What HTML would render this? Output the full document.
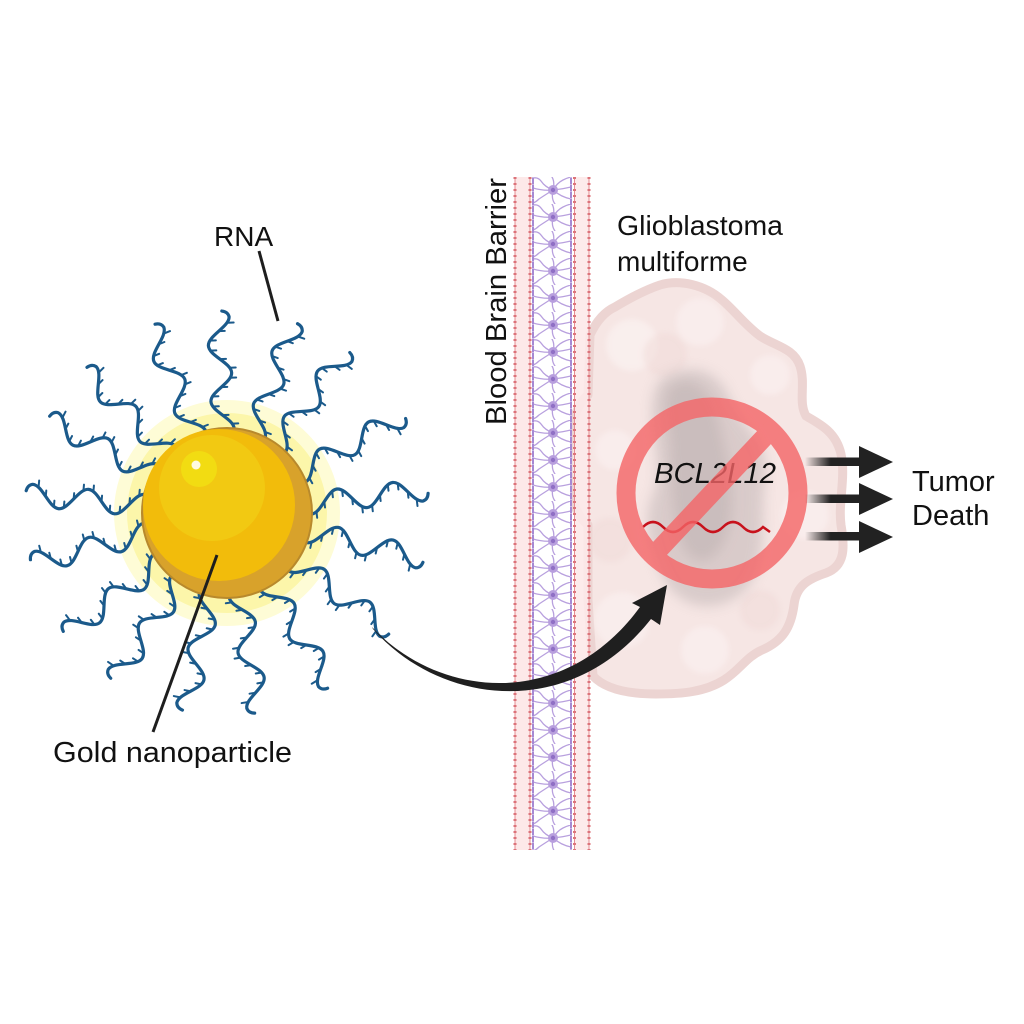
<!DOCTYPE html>
<html>
<head>
<meta charset="utf-8">
<style>
  html, body { margin: 0; padding: 0; background: #ffffff; }
  body { width: 1024px; height: 1024px; overflow: hidden; }
  svg { display: block; }
  text { font-family: "Liberation Sans", Arial, sans-serif; fill: #111111; }
</style>
</head>
<body>
<svg width="1024" height="1024" viewBox="0 0 1024 1024" xmlns="http://www.w3.org/2000/svg">
  <defs>
    <pattern id="astro" patternUnits="userSpaceOnUse" x="533" y="177" width="38" height="27">
      <g fill="none" stroke="#b8a0de" stroke-width="1.3" stroke-linecap="round">
        <path d="M20 13 Q12 10 8 4 Q5 0 0 1"/>
        <path d="M20 13 Q10 14 0 11"/>
        <path d="M20 13 Q12 18 6 22 Q3 25 0 26"/>
        <path d="M20 13 Q24 6 30 3 Q34 1 38 0"/>
        <path d="M20 13 Q30 12 38 10"/>
        <path d="M20 13 Q28 20 38 22"/>
        <path d="M20 13 Q22 5 19 0"/>
        <path d="M20 13 Q18 22 22 27"/>
      </g>
      <circle cx="20" cy="13" r="5" fill="#b89fde"/>
      <circle cx="20" cy="13" r="2.2" fill="#9070c5"/>
    </pattern>
    <linearGradient id="tailg" x1="0" y1="0" x2="1" y2="0">
      <stop offset="0" stop-color="#222" stop-opacity="0"/>
      <stop offset="0.45" stop-color="#222" stop-opacity="1"/>
      <stop offset="1" stop-color="#222" stop-opacity="1"/>
    </linearGradient>
    <filter id="blur6" x="-30%" y="-30%" width="160%" height="160%">
      <feGaussianBlur stdDeviation="6"/>
    </filter>
    <filter id="blur3" x="-30%" y="-30%" width="160%" height="160%">
      <feGaussianBlur stdDeviation="3"/>
    </filter>
    <clipPath id="tumclip">
      <path d="M 590 335 C 596 322, 604 312, 615 307 C 630 298, 645 290, 660 285 C 680 279, 705 285, 722 300 C 735 311, 745 325, 760 336 C 775 346, 794 348, 800 366 C 806 384, 798 402, 806 416 C 820 424, 836 432, 841 454 C 846 478, 838 502, 841 525 C 845 548, 845 566, 826 573 C 808 579, 796 586, 794 605 C 791 627, 783 641, 762 650 C 746 657, 740 670, 724 680 C 705 692, 682 694, 656 694 C 630 694, 606 690, 593 676 L 588 600 L 588 525 C 575 515, 567 490, 568 460 C 569 425, 578 402, 588 395 Z"/>
    </clipPath>
  </defs>

  <!-- ================= TUMOR ================= -->
  <path d="M 590 335 C 596 322, 604 312, 615 307 C 630 298, 645 290, 660 285 C 680 279, 705 285, 722 300 C 735 311, 745 325, 760 336 C 775 346, 794 348, 800 366 C 806 384, 798 402, 806 416 C 820 424, 836 432, 841 454 C 846 478, 838 502, 841 525 C 845 548, 845 566, 826 573 C 808 579, 796 586, 794 605 C 791 627, 783 641, 762 650 C 746 657, 740 670, 724 680 C 705 692, 682 694, 656 694 C 630 694, 606 690, 593 676 L 588 600 L 588 525 C 575 515, 567 490, 568 460 C 569 425, 578 402, 588 395 Z"
        fill="#f6e6e4" stroke="#ecd4d2" stroke-width="9" stroke-linejoin="round"/>
  <g clip-path="url(#tumclip)">
    <g filter="url(#blur3)">
      <circle cx="632" cy="345" r="26" fill="#fbf2f1" opacity="0.7"/>
      <circle cx="700" cy="322" r="24" fill="#fbf2f1" opacity="0.6"/>
      <circle cx="770" cy="375" r="20" fill="#fbf2f1" opacity="0.6"/>
      <circle cx="622" cy="620" r="28" fill="#fbf2f1" opacity="0.6"/>
      <circle cx="705" cy="650" r="24" fill="#fbf2f1" opacity="0.6"/>
      <circle cx="805" cy="515" r="24" fill="#fbf2f1" opacity="0.6"/>
      <circle cx="615" cy="450" r="20" fill="#fbf2f1" opacity="0.6"/>
      <circle cx="665" cy="355" r="22" fill="#efd9d7" opacity="0.5"/>
      <circle cx="610" cy="540" r="22" fill="#efd9d7" opacity="0.5"/>
      <circle cx="760" cy="610" r="20" fill="#efd9d7" opacity="0.5"/>
    </g>
    <path d="M 660 380 C 690 360, 720 370, 730 400 C 745 430, 770 440, 765 480 C 760 520, 770 560, 745 590 C 720 615, 680 610, 665 580 C 650 550, 640 520, 655 490 C 665 460, 640 410, 660 380 Z"
          fill="#c6baba" opacity="0.6" filter="url(#blur6)"/>
    <path d="M 672 385 C 695 372, 712 392, 718 420 C 728 460, 740 500, 725 540 C 710 570, 690 565, 680 540 C 670 510, 672 470, 670 440 C 668 415, 660 395, 672 385 Z"
          fill="#bbafaf" opacity="0.5" filter="url(#blur6)"/>
  </g>

  <!-- ================= BLOOD BRAIN BARRIER ================= -->
  <rect x="515" y="177" width="15" height="673" fill="#fde9e9"/>
  <rect x="574" y="177" width="15" height="673" fill="#fde9e9" opacity="0.9"/>
  <rect x="533" y="177" width="38" height="673" fill="#ffffff"/>
  <rect x="533" y="177" width="38" height="673" fill="url(#astro)"/>
  <g stroke="#e48b90" stroke-width="1">
    <line x1="515" y1="177" x2="515" y2="850"/>
    <line x1="530" y1="177" x2="530" y2="850"/>
    <line x1="574.5" y1="177" x2="574.5" y2="850"/>
    <line x1="589" y1="177" x2="589" y2="850"/>
  </g>
  <g stroke="#dc737a" stroke-width="3" stroke-dasharray="2 4">
    <line x1="515" y1="177" x2="515" y2="850"/>
    <line x1="530" y1="177" x2="530" y2="850"/>
    <line x1="574.5" y1="177" x2="574.5" y2="850"/>
    <line x1="589" y1="177" x2="589" y2="850"/>
  </g>
  <g stroke="#a689d3" stroke-width="2">
    <line x1="533" y1="177" x2="533" y2="850"/>
    <line x1="571" y1="177" x2="571" y2="850"/>
  </g>
  <g stroke="#ffffff" stroke-width="1" stroke-dasharray="1 6" opacity="0.8">
    <line x1="533" y1="177" x2="533" y2="850"/>
    <line x1="571" y1="177" x2="571" y2="850"/>
  </g>

  <text transform="translate(506 425) rotate(-90)" font-size="29" textLength="247" lengthAdjust="spacingAndGlyphs">Blood Brain Barrier</text>

  <!-- ================= INHIBITED GENE ================= -->
  <text x="654" y="483" font-size="29" font-style="italic" textLength="122" lengthAdjust="spacingAndGlyphs">BCL2L12</text>
  <path d="M643 527 Q653 517 663 527 T683 527 T703 527 T723 527 T743 527 T763 527 L770 532"
        fill="none" stroke="#c8121c" stroke-width="2.5"/>
  <g opacity="0.8">
    <circle cx="712" cy="493" r="86" fill="none" stroke="#f46466" stroke-width="19"/>
    <line x1="773" y1="428" x2="651" y2="558" stroke="#f46466" stroke-width="19"/>
  </g>

  <!-- ================= TUMOR DEATH ARROWS ================= -->
  <g>
    <rect x="805" y="457.5" width="57" height="8.5" fill="url(#tailg)"/>
    <polygon points="859,446 893,462 859,478" fill="#222"/>
    <rect x="805" y="494.5" width="57" height="8.5" fill="url(#tailg)"/>
    <polygon points="859,483 893,499 859,515" fill="#222"/>
    <rect x="805" y="532" width="57" height="8.5" fill="url(#tailg)"/>
    <polygon points="859,521 893,537 859,553" fill="#222"/>
  </g>

  <!-- ================= GOLD NANOPARTICLE ================= -->
  <circle cx="227" cy="513" r="113" fill="#fefcd6"/>
  <circle cx="227" cy="513" r="100" fill="#fcf6aa"/>

  <!-- RNA strands -->
  <g fill="none" stroke="#1b5a8b" stroke-linecap="round">
    <g transform="translate(227 513) rotate(-92.6) translate(84 0)"><path stroke-width="3.2" d="M0 11 C10 11 18 -11 28 -11 S46 11 56 11 S74 -11 84 -11 S102 11 112 11 Q117 10 118 4"/><path stroke-width="2" d="M5 9.3v6M14 0v6M23 -9.3v6M33 -9.3v6M42 0v6M51 9.3v6M61 9.3v6M70 0v6M79 -9.3v6M89 -9.3v6M98 0v6M106 9.3v6"/></g>
    <g transform="translate(227 513) rotate(-70.7) translate(84 0)"><path stroke-width="3.2" d="M0 11 C10 11 18 -11 28 -11 S46 11 56 11 S74 -11 84 -11 S102 11 112 11 Q117 10 118 4"/><path stroke-width="2" d="M5 9.3v6M14 0v6M23 -9.3v6M33 -9.3v6M42 0v6M51 9.3v6M61 9.3v6M70 0v6M79 -9.3v6M89 -9.3v6M98 0v6M106 9.3v6"/></g>
    <g transform="translate(227 513) rotate(-53.7) translate(84 0)"><path stroke-width="3.2" d="M0 11 C10 11 18 -11 28 -11 S46 11 56 11 S74 -11 84 -11 S102 11 112 11 Q117 10 118 4"/><path stroke-width="2" d="M5 9.3v6M14 0v6M23 -9.3v6M33 -9.3v6M42 0v6M51 9.3v6M61 9.3v6M70 0v6M79 -9.3v6M89 -9.3v6M98 0v6M106 9.3v6"/></g>
    <g transform="translate(227 513) rotate(-29) translate(84 0)"><path stroke-width="3.2" d="M0 11 C10 11 18 -11 28 -11 S46 11 56 11 S74 -11 84 -11 S102 11 112 11 Q117 10 118 4"/><path stroke-width="2" d="M5 9.3v6M14 0v6M23 -9.3v6M33 -9.3v6M42 0v6M51 9.3v6M61 9.3v6M70 0v6M79 -9.3v6M89 -9.3v6M98 0v6M106 9.3v6"/></g>
    <g transform="translate(227 513) rotate(-6.7) translate(84 0)"><path stroke-width="3.2" d="M0 11 C10 11 18 -11 28 -11 S46 11 56 11 S74 -11 84 -11 S102 11 112 11 Q117 10 118 4"/><path stroke-width="2" d="M5 9.3v6M14 0v6M23 -9.3v6M33 -9.3v6M42 0v6M51 9.3v6M61 9.3v6M70 0v6M79 -9.3v6M89 -9.3v6M98 0v6M106 9.3v6"/></g>
    <g transform="translate(227 513) rotate(13) translate(84 0)"><path stroke-width="3.2" d="M0 11 C10 11 18 -11 28 -11 S46 11 56 11 S74 -11 84 -11 S102 11 112 11 Q117 10 118 4"/><path stroke-width="2" d="M5 9.3v6M14 0v6M23 -9.3v6M33 -9.3v6M42 0v6M51 9.3v6M61 9.3v6M70 0v6M79 -9.3v6M89 -9.3v6M98 0v6M106 9.3v6"/></g>
    <g transform="translate(227 513) rotate(35.7) translate(84 0)"><path stroke-width="3.2" d="M0 11 C10 11 18 -11 28 -11 S46 11 56 11 S74 -11 84 -11 S102 11 112 11 Q117 10 118 4"/><path stroke-width="2" d="M5 9.3v6M14 0v6M23 -9.3v6M33 -9.3v6M42 0v6M51 9.3v6M61 9.3v6M70 0v6M79 -9.3v6M89 -9.3v6M98 0v6M106 9.3v6"/></g>
    <g transform="translate(227 513) rotate(59) translate(84 0)"><path stroke-width="3.2" d="M0 11 C10 11 18 -11 28 -11 S46 11 56 11 S74 -11 84 -11 S102 11 112 11 Q117 10 118 4"/><path stroke-width="2" d="M5 9.3v6M14 0v6M23 -9.3v6M33 -9.3v6M42 0v6M51 9.3v6M61 9.3v6M70 0v6M79 -9.3v6M89 -9.3v6M98 0v6M106 9.3v6"/></g>
    <g transform="translate(227 513) rotate(81) translate(84 0)"><path stroke-width="3.2" d="M0 11 C10 11 18 -11 28 -11 S46 11 56 11 S74 -11 84 -11 S102 11 112 11 Q117 10 118 4"/><path stroke-width="2" d="M5 9.3v6M14 0v6M23 -9.3v6M33 -9.3v6M42 0v6M51 9.3v6M61 9.3v6M70 0v6M79 -9.3v6M89 -9.3v6M98 0v6M106 9.3v6"/></g>
    <g transform="translate(227 513) rotate(101.6) translate(84 0)"><path stroke-width="3.2" d="M0 11 C10 11 18 -11 28 -11 S46 11 56 11 S74 -11 84 -11 S102 11 112 11 Q117 10 118 4"/><path stroke-width="2" d="M5 9.3v6M14 0v6M23 -9.3v6M33 -9.3v6M42 0v6M51 9.3v6M61 9.3v6M70 0v6M79 -9.3v6M89 -9.3v6M98 0v6M106 9.3v6"/></g>
    <g transform="translate(227 513) rotate(124) translate(84 0)"><path stroke-width="3.2" d="M0 11 C10 11 18 -11 28 -11 S46 11 56 11 S74 -11 84 -11 S102 11 112 11 Q117 10 118 4"/><path stroke-width="2" d="M5 9.3v6M14 0v6M23 -9.3v6M33 -9.3v6M42 0v6M51 9.3v6M61 9.3v6M70 0v6M79 -9.3v6M89 -9.3v6M98 0v6M106 9.3v6"/></g>
    <g transform="translate(227 513) rotate(143) translate(84 0)"><path stroke-width="3.2" d="M0 11 C10 11 18 -11 28 -11 S46 11 56 11 S74 -11 84 -11 S102 11 112 11 Q117 10 118 4"/><path stroke-width="2" d="M5 9.3v6M14 0v6M23 -9.3v6M33 -9.3v6M42 0v6M51 9.3v6M61 9.3v6M70 0v6M79 -9.3v6M89 -9.3v6M98 0v6M106 9.3v6"/></g>
    <g transform="translate(227 513) rotate(165.5) translate(84 0)"><path stroke-width="3.2" d="M0 11 C10 11 18 -11 28 -11 S46 11 56 11 S74 -11 84 -11 S102 11 112 11 Q117 10 118 4"/><path stroke-width="2" d="M5 9.3v6M14 0v6M23 -9.3v6M33 -9.3v6M42 0v6M51 9.3v6M61 9.3v6M70 0v6M79 -9.3v6M89 -9.3v6M98 0v6M106 9.3v6"/></g>
    <g transform="translate(227 513) rotate(185.2) translate(84 0)"><path stroke-width="3.2" d="M0 11 C10 11 18 -11 28 -11 S46 11 56 11 S74 -11 84 -11 S102 11 112 11 Q117 10 118 4"/><path stroke-width="2" d="M5 9.3v6M14 0v6M23 -9.3v6M33 -9.3v6M42 0v6M51 9.3v6M61 9.3v6M70 0v6M79 -9.3v6M89 -9.3v6M98 0v6M106 9.3v6"/></g>
    <g transform="translate(227 513) rotate(207.5) translate(84 0)"><path stroke-width="3.2" d="M0 11 C10 11 18 -11 28 -11 S46 11 56 11 S74 -11 84 -11 S102 11 112 11 Q117 10 118 4"/><path stroke-width="2" d="M5 9.3v6M14 0v6M23 -9.3v6M33 -9.3v6M42 0v6M51 9.3v6M61 9.3v6M70 0v6M79 -9.3v6M89 -9.3v6M98 0v6M106 9.3v6"/></g>
    <g transform="translate(227 513) rotate(225) translate(84 0)"><path stroke-width="3.2" d="M0 11 C10 11 18 -11 28 -11 S46 11 56 11 S74 -11 84 -11 S102 11 112 11 Q117 10 118 4"/><path stroke-width="2" d="M5 9.3v6M14 0v6M23 -9.3v6M33 -9.3v6M42 0v6M51 9.3v6M61 9.3v6M70 0v6M79 -9.3v6M89 -9.3v6M98 0v6M106 9.3v6"/></g>
    <g transform="translate(227 513) rotate(248) translate(84 0)"><path stroke-width="3.2" d="M0 11 C10 11 18 -11 28 -11 S46 11 56 11 S74 -11 84 -11 S102 11 112 11 Q117 10 118 4"/><path stroke-width="2" d="M5 9.3v6M14 0v6M23 -9.3v6M33 -9.3v6M42 0v6M51 9.3v6M61 9.3v6M70 0v6M79 -9.3v6M89 -9.3v6M98 0v6M106 9.3v6"/></g>
  </g>

  <!-- sphere -->
  <circle cx="227" cy="513" r="85" fill="#d8a22b" stroke="#b8892c" stroke-width="2"/>
  <circle cx="219" cy="505" r="76" fill="#f2bc0b"/>
  <circle cx="212" cy="488" r="53" fill="#f2c912"/>
  <circle cx="199" cy="469" r="18" fill="#f2dc12"/>
  <circle cx="196" cy="465" r="4.5" fill="#fffbe0"/>

  <!-- ================= CURVED ARROW ================= -->
  <path d="M 372 627 C 440 700, 565 710, 640 607 L 632 603 L 667 585 L 660 625 L 651 619 C 570 722, 440 705, 373 629 Z" fill="#1f1f1f"/>

  <!-- ================= LEADERS & LABELS ================= -->
  <line x1="259" y1="251" x2="278" y2="321" stroke="#1e1e1e" stroke-width="3"/>
  <line x1="217" y1="555" x2="153" y2="732" stroke="#1e1e1e" stroke-width="3"/>

  <text x="214" y="246" font-size="28">RNA</text>
  <text x="53" y="762" font-size="29" textLength="239" lengthAdjust="spacingAndGlyphs">Gold nanoparticle</text>
  <text x="617" y="235" font-size="28" textLength="166" lengthAdjust="spacingAndGlyphs">Glioblastoma</text>
  <text x="617" y="271" font-size="28">multiforme</text>
  <text x="912" y="491" font-size="29">Tumor</text>
  <text x="912" y="525" font-size="29">Death</text>
</svg>
</body>
</html>
